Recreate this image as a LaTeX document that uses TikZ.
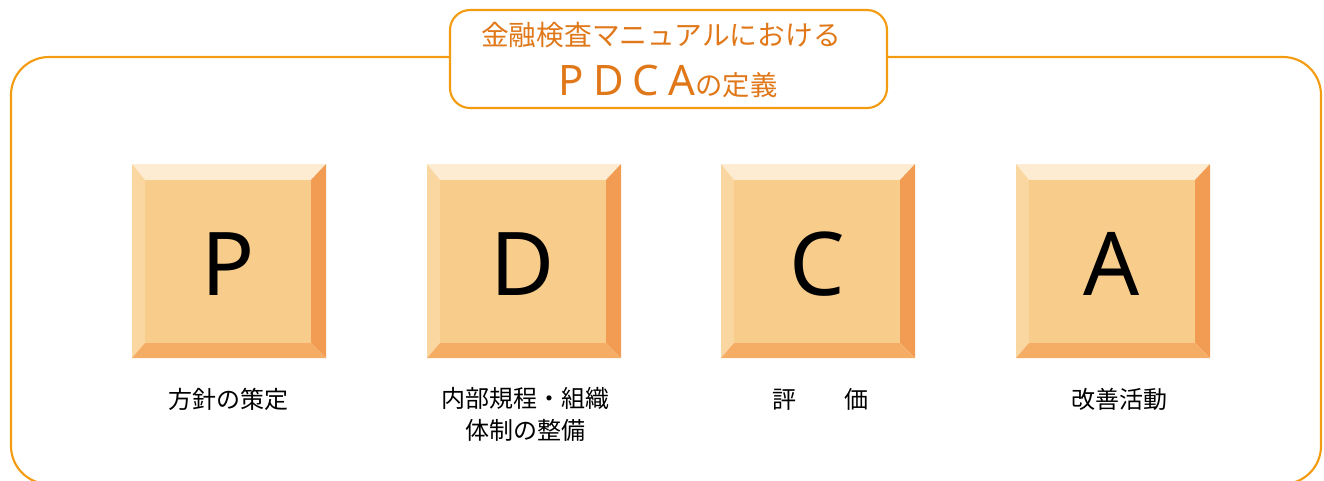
\documentclass[tikz,border=0pt]{standalone}
\usepackage{fontspec}
\setmainfont{Noto Sans CJK JP}
\newfontfamily\latinf{Noto Sans}
\definecolor{frameor}{HTML}{F39C12}
\definecolor{titleor}{HTML}{E0781A}
\definecolor{bvtop}{HTML}{FDEBD2}
\definecolor{bvleft}{HTML}{FAD7A0}
\definecolor{bvright}{HTML}{F29B52}
\definecolor{bvbot}{HTML}{F5AD66}
\definecolor{face}{HTML}{F8CC8A}
\tikzset{
  frame/.style={draw=frameor,line width=1.6pt},
  keyletter/.style={font=\latinf\fontsize{66}{70}\selectfont,text=black},
  label/.style={font=\fontsize{18}{24}\selectfont,align=center,text=black},
}
\newcommand{\keybox}[4]{% #1 name, #2 left x, #3 top y, #4 letter
  \coordinate (#1-a) at (#2,#3);
  \coordinate (#1-b) at ({#2+194},#3);
  \coordinate (#1-c) at ({#2+194},{#3+194});
  \coordinate (#1-d) at (#2,{#3+194});
  \coordinate (#1-ia) at ({#2+13},{#3+16});
  \coordinate (#1-ib) at ({#2+179},{#3+16});
  \coordinate (#1-ic) at ({#2+179},{#3+179});
  \coordinate (#1-id) at ({#2+13},{#3+179});
  \fill[bvtop] (#1-a)--(#1-b)--(#1-ib)--(#1-ia)--cycle;
  \fill[bvleft] (#1-a)--(#1-ia)--(#1-id)--(#1-d)--cycle;
  \fill[bvright] (#1-b)--(#1-c)--(#1-ic)--(#1-ib)--cycle;
  \fill[bvbot] (#1-d)--(#1-id)--(#1-ic)--(#1-c)--cycle;
  \fill[face] (#1-ia) rectangle (#1-ic);
  \node[keyletter] (#1) at ({#2+96},{#3+100}) {#4};
}
\begin{document}
\begin{tikzpicture}[x=0.75pt,y=-0.75pt]
\useasboundingbox (0,0) rectangle (1324,480);
\clip (0,0) rectangle (1324,480);
\draw[frame,rounded corners=28.5pt] (11,57) rectangle (1321,484);
\draw[frame,fill=white,rounded corners=15pt] (450,10) rectangle (887,108);
\node[text=titleor,font=\fontsize{20.8}{22}\selectfont] (t1) at (661,35) {金融検査マニュアルにおける};
\node[text=titleor,font=\fontsize{20.5}{22}\selectfont] (t2) at (668,81) {{\latinf\fontsize{31.5}{34}\selectfont P\hspace{0.22em}D\hspace{0.22em}C\hspace{0.22em}A}の定義};
\keybox{P}{132}{164}{P}
\keybox{D}{427}{164}{D}
\keybox{C}{721}{164}{C}
\keybox{A}{1016}{164}{A}
\node[label] (lp) at (228,399) {方針の策定};
\node[label] (ld) at (525,414) {内部規程・組織\\体制の整備};
\node[label] (lc) at (820,399) {評\hspace{2em}価};
\node[label] (la) at (1119,399) {改善活動};
\end{tikzpicture}
\end{document}
